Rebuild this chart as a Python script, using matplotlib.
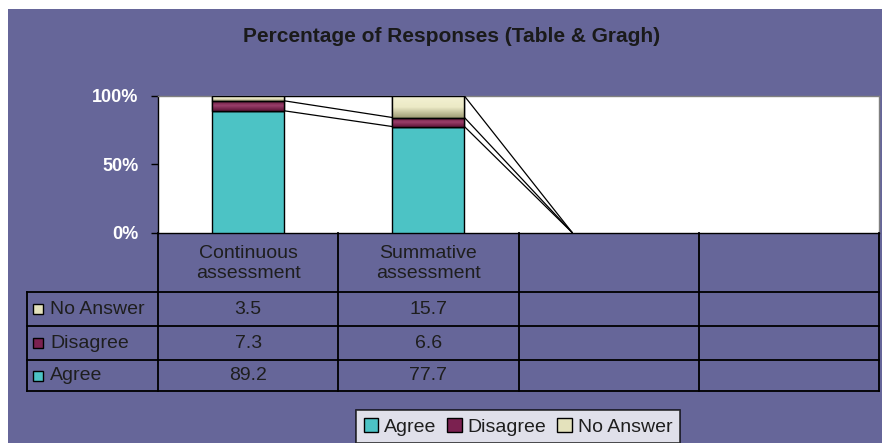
import numpy as np
import matplotlib
matplotlib.use("Agg")
import matplotlib.pyplot as plt
from matplotlib.patches import Rectangle

plt.rcParams["font.family"] = ["Liberation Sans", "DejaVu Sans"]

TITLE = "Percentage of Responses (Table & Gragh)"
categories = ["Continuous\nassessment", "Summative\nassessment", "", ""]
series_names = ["Agree", "Disagree", "No Answer"]
agree = [89.2, 77.7, np.nan, np.nan]
disagree = [7.3, 6.6, np.nan, np.nan]
no_answer = [3.5, 15.7, np.nan, np.nan]
y_ticks = [0, 50, 100]
y_tick_labels = ["0%", "50%", "100%"]

BG = "#666699"
colors = ["#4CC3C5", "#7B2150", "#E4E2BC"]
# (top, middle, bottom) shades for the gradient fills
gradients = [None, ("#5E1438", "#9A3E6A", "#5E1438"), ("#F3F1D2", "#ECEAC6", "#9E9C74")]

W, H = 882, 443
fig = plt.figure(figsize=(W / 100, H / 100), dpi=100, facecolor="white")

# purple chart area, leaving the thin white strip on the left and top
fig.patches.append(Rectangle((8 / W, 0), 1 - 8 / W, 1 - 9 / H, transform=fig.transFigure,
                             facecolor=BG, edgecolor="none", zorder=-10))

# plot area in pixels
px_left, px_right, px_top, px_bottom = 158, 879, 96, 233
ax = fig.add_axes([px_left / W, 1 - px_bottom / H,
                   (px_right - px_left) / W, (px_bottom - px_top) / H])
ax.set_facecolor("white")

values = np.array([agree, disagree, no_answer], dtype=float)
values = np.nan_to_num(values)
totals = values.sum(axis=0)
pct = np.where(totals > 0, values / np.where(totals > 0, totals, 1) * 100, 0)
tops = np.cumsum(pct, axis=0)
bottoms = tops - pct

n = len(categories)
x = np.arange(n) + 0.5
bar_w = 0.4

for s in range(len(series_names)):
    has = totals > 0
    bars = ax.bar(x[has], pct[s][has], bar_w, bottom=bottoms[s][has],
                  color=colors[s], edgecolor="black", linewidth=1.0, zorder=3)
    if gradients[s] is not None:
        cmap = matplotlib.colors.LinearSegmentedColormap.from_list("g", gradients[s][::-1])
        for b in bars:
            bx, by = b.get_x(), b.get_y()
            bw, bh = b.get_width(), b.get_height()
            grad = np.linspace(0, 1, 50).reshape(-1, 1)
            im = ax.imshow(grad, extent=[bx, bx + bw, by, by + bh], origin="lower",
                           cmap=cmap, aspect="auto", zorder=3.5)
            im.set_clip_path(b)
            ax.add_patch(Rectangle((bx, by), bw, bh, fill=False,
                                   edgecolor="black", linewidth=1.0, zorder=4))

# series lines between consecutive categories
for i in range(n - 1):
    if totals[i] == 0 and totals[i + 1] == 0:
        continue
    for s in range(len(series_names)):
        ax.plot([x[i] + bar_w / 2, x[i + 1] - bar_w / 2], [tops[s][i], tops[s][i + 1]],
                color="black", lw=0.9, zorder=5, solid_capstyle="butt")

ax.set_xlim(0, n)
ax.set_ylim(0, 100)
ax.set_xticks([])
ax.set_yticks(y_ticks)
ax.set_yticklabels(y_tick_labels, fontsize=13, fontweight="bold", color="white")
ax.tick_params(axis="y", direction="out", length=5, width=1, pad=9, color="black")
ax.spines["left"].set_color("black")
ax.spines["bottom"].set_color("black")
ax.spines["top"].set_color("#808080")
ax.spines["right"].set_color("#808080")
for sp in ax.spines.values():
    sp.set_linewidth(1.0)

# title
fig.text(452 / W, 1 - 37 / H, TITLE, ha="center", va="center",
         fontsize=15, fontweight="bold", color="#1a1a1a")

# data table, drawn on an overlay in pixel units
tab = fig.add_axes([0, 0, 1, 1], facecolor="none")
tab.set_xlim(0, W)
tab.set_ylim(H, 0)
tab.axis("off")

col_edges = np.linspace(px_left, px_right, n + 1)
label_left = 27
row_edges = [233, 292, 326, 360, 391]
lw = 1.3
txt_color = "#1e1e1e"
fs = 14

tab.plot([px_left, px_left], [row_edges[0], row_edges[-1]], color="black", lw=lw)
for ce in col_edges[1:]:
    tab.plot([ce, ce], [row_edges[0], row_edges[-1]], color="black", lw=lw)
for ry in row_edges[1:]:
    tab.plot([label_left, px_right], [ry, ry], color="black", lw=lw)
tab.plot([label_left, label_left], [row_edges[1], row_edges[-1]], color="black", lw=lw)

for i, cat in enumerate(categories):
    cx = (col_edges[i] + col_edges[i + 1]) / 2
    tab.text(cx, (row_edges[0] + row_edges[1]) / 2 + 1, cat, ha="center", va="center",
             fontsize=fs, color=txt_color, linespacing=1.2)

# rows listed top to bottom: No Answer, Disagree, Agree
order = [2, 1, 0]
raw = [agree, disagree, no_answer]
for r, s in enumerate(order):
    cy = (row_edges[r + 1] + row_edges[r + 2]) / 2
    tab.add_patch(Rectangle((32.5, cy - 5), 10, 10, facecolor=colors[s],
                            edgecolor="black", lw=1.0))
    tab.text(50, cy, series_names[s], ha="left", va="center", fontsize=fs,
             color=txt_color)
    for i in range(n):
        v = raw[s][i]
        if not np.isnan(v):
            cx = (col_edges[i] + col_edges[i + 1]) / 2
            tab.text(cx, cy, f"{v:.1f}", ha="center", va="center", fontsize=fs,
                     color=txt_color)

# legend
handles = [Rectangle((0, 0), 1, 1, facecolor=colors[s], edgecolor="black", lw=1.0)
           for s in range(len(series_names))]
leg = fig.legend(handles, series_names, loc="upper left",
                 bbox_to_anchor=(356 / W, 1 - 410 / H), ncol=3, fontsize=fs,
                 frameon=True, fancybox=False, handlelength=0.75, handleheight=0.75,
                 handletextpad=0.3, columnspacing=0.55, borderpad=0.4,
                 borderaxespad=0)
leg.get_frame().set_edgecolor("black")
leg.get_frame().set_linewidth(1.2)
leg.get_frame().set_facecolor("white")
for t in leg.get_texts():
    t.set_color(txt_color)

fig.savefig("out.png", dpi=100, facecolor="white")
